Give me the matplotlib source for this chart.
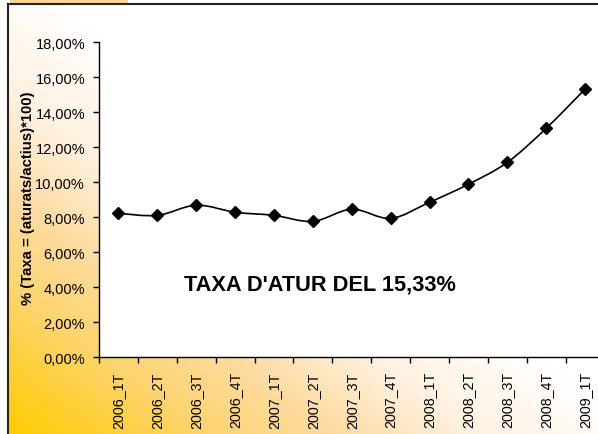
import matplotlib
matplotlib.use("Agg")
import matplotlib.pyplot as plt
import numpy as np
from matplotlib.path import Path
from matplotlib.patches import PathPatch, Rectangle
from matplotlib.colors import LinearSegmentedColormap
from matplotlib.ticker import FuncFormatter

plt.rcParams['font.family'] = ['Liberation Sans', 'DejaVu Sans']

# trimestres i taxa d'atur (%)
trimestres = ["2006_1T", "2006_2T", "2006_3T", "2006_4T",
              "2007_1T", "2007_2T", "2007_3T", "2007_4T",
              "2008_1T", "2008_2T", "2008_3T", "2008_4T", "2009_1T"]
taxa = [8.23, 8.11, 8.69, 8.29, 8.11, 7.77, 8.46, 7.94,
        8.86, 9.89, 11.14, 13.09, 15.33]
yticks = [0, 2, 4, 6, 8, 10, 12, 14, 16, 18]

W, H = 598, 435
fig = plt.figure(figsize=(W / 100, H / 100), dpi=100)

# fons degradat (groc a baix-esquerra, blanc a dalt-dreta)
bg = fig.add_axes([0, 0, 1, 1], zorder=-10)
bg.set_axis_off()
u = np.linspace(0, 1, 300)
v = np.linspace(0, 1, 220)
U, V = np.meshgrid(u, v)
S = np.clip((U + V) / 1.2, 0, 1)
cmap = LinearSegmentedColormap.from_list(
    "sunset", [(0.0, "#ffcc00"), (0.28, "#fdd46e"), (0.46, "#fddba0"),
               (0.66, "#fff1e0"), (0.9, "#ffffff"), (1.0, "#ffffff")])
x0 = 8 / W
y1 = 1 - 5 / H
bg.imshow(S, cmap=cmap, origin="lower", extent=[x0, 1, 0, y1], aspect="auto")
bg.set_xlim(0, 1)
bg.set_ylim(0, 1)
bg.plot([x0, x0], [0, y1], color="#222222", lw=1.5)
bg.plot([x0, 1], [y1, y1], color="#222222", lw=1.5)
bg.add_patch(Rectangle((10 / W, 1 - 5 / H), 118 / W, 5 / H, color="#ffd39b", lw=0))

# plot area
ax = fig.add_axes([99 / W, 76.7 / H, 505.6 / W, 315 / H])
ax.set_facecolor("white")
xs = np.arange(len(taxa))
ys = np.array(taxa)

# linia suavitzada (estil Excel)
pts = np.column_stack([xs, ys])
verts = [tuple(pts[0])]
codes = [Path.MOVETO]
n = len(pts)
for i in range(n - 1):
    p0 = pts[max(i - 1, 0)]
    p1 = pts[i]
    p2 = pts[i + 1]
    p3 = pts[min(i + 2, n - 1)]
    c1 = p1 + (p2 - p0) / 6
    c2 = p2 - (p3 - p1) / 6
    verts += [tuple(c1), tuple(c2), tuple(p2)]
    codes += [Path.CURVE4] * 3
ax.add_patch(PathPatch(Path(verts, codes), fill=False, color="black", lw=1.2))
ax.plot(xs, ys, linestyle="none", marker="D", markersize=6, color="black")

ax.set_xlim(-0.5, len(taxa) - 0.5)
ax.set_ylim(0, 18)
ax.set_yticks(yticks)
ax.yaxis.set_major_formatter(FuncFormatter(lambda val, p: f"{val:.2f}%".replace(".", ",")))
ax.set_xticks(np.arange(len(taxa) + 1) - 0.5, minor=False)
ax.set_xticklabels([])
ax.set_xticks(xs, minor=True)
ax.set_xticklabels(trimestres, minor=True, rotation=90, fontsize=10.3)
ax.tick_params(axis="x", which="minor", length=0, pad=10)
ax.tick_params(axis="x", which="major", length=4, width=1, direction="out")
ax.tick_params(axis="y", length=4, width=1, direction="out", labelsize=10.5, pad=6)
for s in ["top", "right"]:
    ax.spines[s].set_visible(False)
for s in ["left", "bottom"]:
    ax.spines[s].set_linewidth(1.0)

fig.text(28 / W, 1 - 198 / H, "% (Taxa = (aturats/actius)*100)", rotation=90,
         ha="center", va="center", fontsize=10.7, fontweight="bold")
ax.text(5.18, 4.17, "TAXA D'ATUR DEL 15,33%", ha="center", va="center",
        fontsize=15.7, fontweight="bold")

fig.savefig("out.png", dpi=100)
